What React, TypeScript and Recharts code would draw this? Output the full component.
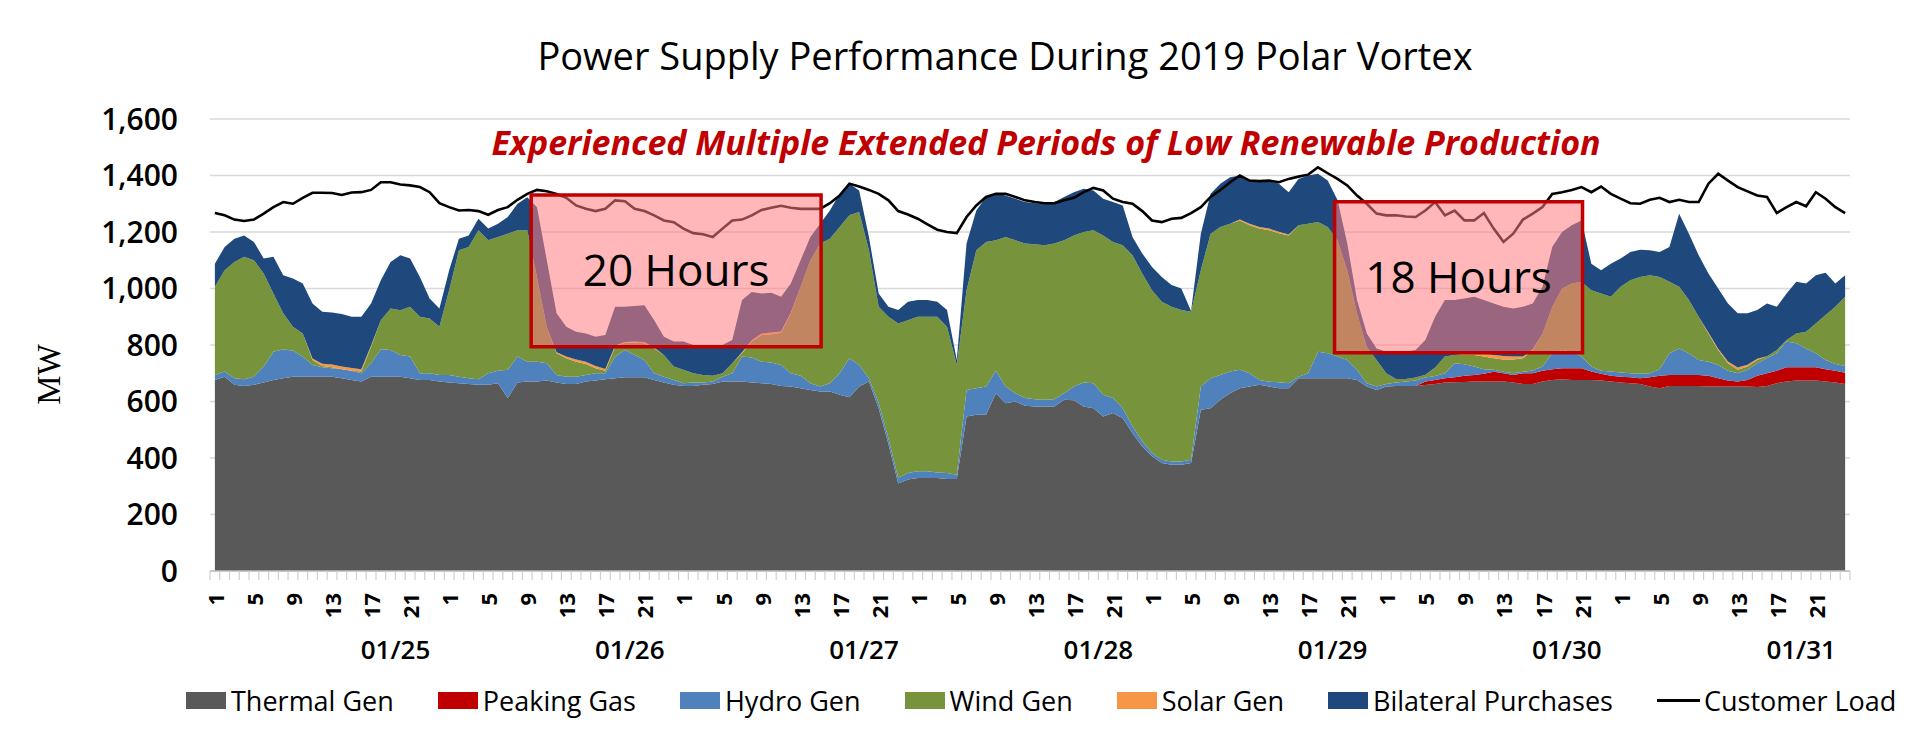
import React from 'react';
import {
  ComposedChart,
  Area,
  Line,
  XAxis,
  YAxis,
  CartesianGrid,
  ReferenceArea,
  Legend,
} from 'recharts';

// ---------------- data ----------------
const dates = ['01/25', '01/26', '01/27', '01/28', '01/29', '01/30', '01/31'];
const hoursOfDay = [1, 2, 3, 4, 5, 6, 7, 8, 9, 10, 11, 12, 13, 14, 15, 16, 17, 18, 19, 20, 21, 22, 23, 24];
const yTicks = [0, 200, 400, 600, 800, 1000, 1200, 1400, 1600];

const thermal = [
  676, 688, 659, 655, 659, 667, 676, 682, 688, 688,
  688, 688, 688, 682, 676, 671, 688, 688, 688, 688,
  682, 676, 676, 671, 667, 665, 662, 659, 659, 665,
  612, 667, 671, 671, 674, 667, 662, 662, 671, 674,
  679, 682, 686, 686, 686, 676, 667, 659, 655, 655,
  659, 662, 671, 671, 671, 667, 665, 662, 655, 653,
  647, 641, 635, 635, 624, 615, 653, 671, 575, 450,
  310, 324, 329, 329, 329, 326, 326, 547, 553, 553,
  629, 594, 600, 585, 582, 582, 582, 606, 604, 582,
  576, 547, 559, 541, 488, 441, 406, 382, 376, 376,
  382, 571, 576, 606, 629, 647, 653, 659, 653, 647,
  647, 682, 682, 682, 682, 682, 682, 676, 653, 641,
  653, 655, 655, 655, 658, 662, 667, 668, 669, 671,
  671, 671, 671, 667, 662, 662, 671, 676, 679, 676,
  676, 676, 674, 671, 667, 665, 662, 653, 647, 655,
  655, 655, 655, 653, 653, 653, 653, 653, 651, 655,
  665, 671, 674, 674, 674, 671, 667, 662,
];

const peakingGas = [
  0, 0, 0, 0, 0, 0, 0, 0, 0, 0,
  0, 0, 0, 0, 0, 0, 0, 0, 0, 0,
  0, 0, 0, 0, 0, 0, 0, 0, 0, 0,
  0, 0, 0, 0, 0, 0, 0, 0, 0, 0,
  0, 0, 0, 0, 0, 0, 0, 0, 0, 0,
  0, 0, 0, 0, 0, 0, 0, 0, 0, 0,
  0, 0, 0, 0, 0, 0, 0, 0, 0, 0,
  0, 0, 0, 0, 0, 0, 0, 0, 0, 0,
  0, 0, 0, 0, 0, 0, 0, 0, 0, 0,
  0, 0, 0, 0, 0, 0, 0, 0, 0, 0,
  0, 0, 0, 0, 0, 0, 0, 0, 0, 0,
  0, 0, 0, 0, 0, 0, 0, 0, 0, 0,
  0, 0, 0, 0, 13, 14, 15, 18, 22, 23,
  27, 34, 29, 27, 38, 38, 38, 38, 39, 42,
  42, 30, 24, 20, 21, 21, 20, 33, 44, 39,
  39, 39, 39, 38, 29, 21, 18, 23, 40, 45,
  44, 50, 47, 47, 47, 43, 42, 40,
];

const hydro = [
  18, 18, 23, 24, 29, 57, 100, 103, 92, 71,
  41, 33, 30, 32, 33, 29, 47, 97, 94, 77,
  77, 24, 24, 23, 27, 23, 20, 20, 41, 44,
  100, 92, 70, 70, 61, 27, 26, 26, 23, 26,
  21, 77, 96, 79, 61, 24, 21, 17, 10, 12,
  8, 9, 17, 29, 88, 89, 76, 76, 74, 47,
  44, 24, 18, 30, 76, 138, 76, 11, 20, 20,
  20, 23, 24, 24, 20, 21, 15, 94, 94, 100,
  80, 59, 29, 27, 26, 24, 26, 23, 49, 85,
  89, 77, 53, 35, 24, 18, 12, 12, 12, 12,
  12, 82, 106, 88, 77, 65, 47, 17, 17, 21,
  18, 6, 18, 94, 89, 77, 65, 36, 12, 12,
  9, 12, 16, 19, 14, 14, 18, 49, 41, 30,
  16, 7, 5, 6, 5, 10, 15, 57, 64, 58,
  41, 18, 11, 15, 15, 14, 16, 14, 23, 77,
  94, 77, 53, 50, 47, 35, 29, 36, 44, 53,
  62, 91, 85, 67, 50, 33, 24, 24,
];

const wind = [
  312, 359, 412, 433, 412, 329, 206, 127, 85, 82,
  18, 5, 3, 0, 0, 6, 59, 103, 147, 158,
  176, 200, 194, 171, 300, 447, 465, 527, 471, 473,
  482, 447, 465, 300, 130, 77, 65, 53, 39, 18,
  9, 35, 26, 43, 59, 88, 77, 48, 47, 33,
  27, 20, 12, 35, 12, 56, 94, 100, 114, 212,
  315, 435, 506, 511, 518, 506, 542, 453, 340, 430,
  546, 541, 547, 547, 551, 518, 388, 353, 488, 512,
  462, 529, 542, 547, 549, 547, 551, 542, 535, 533,
  541, 564, 553, 577, 606, 594, 576, 559, 547, 536,
  524, 412, 512, 524, 523, 529, 524, 536, 536, 528,
  523, 536, 529, 459, 447, 412, 318, 200, 129, 94,
  38, 13, 9, 11, 10, 30, 59, 30, 33, 41,
  45, 41, 44, 49, 48, 72, 117, 164, 218, 242,
  265, 270, 273, 265, 303, 329, 343, 347, 327, 253,
  218, 188, 153, 100, 53, 26, 12, 12, 12, 7,
  11, 6, 35, 59, 105, 159, 202, 245,
];

const solar = [
  0, 0, 0, 0, 0, 0, 0, 0, 0, 0,
  5, 8, 10, 10, 10, 8, 4, 0, 0, 0,
  0, 0, 0, 0, 0, 0, 0, 0, 0, 0,
  0, 0, 0, 0, 0, 3, 6, 8, 8, 8,
  6, 4, 3, 4, 5, 3, 0, 0, 0, 0,
  0, 0, 0, 0, 3, 5, 6, 6, 5, 3,
  0, 0, 0, 0, 0, 0, 0, 0, 0, 0,
  0, 0, 0, 0, 0, 0, 0, 0, 0, 0,
  0, 0, 0, 0, 0, 0, 0, 0, 0, 0,
  0, 0, 0, 0, 0, 0, 0, 0, 0, 0,
  0, 0, 0, 0, 0, 3, 5, 6, 6, 5,
  3, 0, 0, 0, 0, 0, 0, 0, 0, 0,
  0, 0, 0, 0, 0, 0, 0, 0, 4, 8,
  10, 12, 12, 10, 6, 3, 0, 0, 0, 0,
  0, 0, 0, 0, 0, 0, 0, 0, 0, 0,
  0, 0, 0, 3, 5, 7, 8, 6, 4, 0,
  0, 0, 0, 0, 0, 0, 0, 0,
];

const bilateral = [
  82, 82, 82, 76, 65, 53, 130, 135, 170, 177,
  195, 184, 184, 186, 181, 186, 149, 141, 165, 195,
  171, 141, 71, 64, 71, 41, 41, 41, 41, 47,
  59, 94, 117, 247, 235, 138, 106, 98, 100, 103,
  120, 137, 124, 126, 130, 97, 64, 88, 100, 100,
  106, 109, 100, 83, 185, 171, 141, 141, 123, 103,
  94, 82, 70, 100, 117, 112, 76, 47, 47, 35,
  48, 65, 59, 59, 53, 59, 18, 165, 141, 159,
  164, 147, 147, 147, 145, 147, 147, 153, 153, 153,
  141, 130, 141, 141, 64, 71, 82, 88, 77, 76,
  2, 129, 141, 153, 165, 156, 153, 162, 168, 170,
  150, 164, 171, 171, 164, 142, 94, 47, 47, 41,
  76, 96, 96, 97, 123, 180, 200, 194, 196, 198,
  190, 182, 174, 170, 176, 162, 165, 212, 200, 206,
  217, 94, 83, 117, 100, 100, 96, 88, 88, 123,
  259, 235, 218, 209, 213, 205, 192, 182, 173, 187,
  153, 164, 183, 171, 171, 150, 83, 76,
];

const customerLoad = [
  1267, 1259, 1244, 1239, 1244, 1265, 1288, 1306, 1300, 1321,
  1339, 1339, 1338, 1331, 1340, 1341, 1349, 1376, 1376, 1368,
  1365, 1359, 1341, 1302, 1288, 1276, 1278, 1274, 1261, 1278,
  1288, 1314, 1335, 1349, 1344, 1335, 1321, 1294, 1282, 1274,
  1282, 1312, 1309, 1282, 1274, 1259, 1241, 1235, 1212, 1196,
  1192, 1182, 1212, 1241, 1244, 1259, 1278, 1286, 1293, 1286,
  1282, 1282, 1282, 1302, 1329, 1371, 1361, 1349, 1335, 1312,
  1274, 1262, 1247, 1227, 1208, 1200, 1196, 1253, 1294, 1324,
  1335, 1335, 1324, 1312, 1306, 1302, 1302, 1312, 1321, 1341,
  1356, 1347, 1318, 1306, 1300, 1274, 1241, 1235, 1247, 1250,
  1267, 1288, 1324, 1349, 1376, 1400, 1382, 1380, 1382, 1376,
  1388, 1396, 1403, 1429, 1408, 1388, 1365, 1329, 1300, 1265,
  1259, 1259, 1255, 1253, 1276, 1306, 1259, 1276, 1241, 1241,
  1267, 1212, 1165, 1194, 1244, 1265, 1288, 1335, 1341, 1349,
  1359, 1341, 1361, 1335, 1318, 1302, 1300, 1314, 1321, 1306,
  1314, 1306, 1306, 1371, 1406, 1382, 1359, 1344, 1329, 1324,
  1267, 1288, 1306, 1291, 1341, 1318, 1288, 1267,
];

// highlighted low-renewable windows (x in hour-slots from chart start, y in MW)
const lowRenewableBoxes = [
  { label: '20 Hours', x1: 32.9, x2: 62.6, y1: 794, y2: 1331 },
  { label: '18 Hours', x1: 115.2, x2: 140.6, y1: 773, y2: 1307 },
];

const seriesInfo = [
  { key: 'thermal', name: 'Thermal Gen', color: '#595959' },
  { key: 'peaking', name: 'Peaking Gas', color: '#C00000' },
  { key: 'hydro', name: 'Hydro Gen', color: '#4F81BD' },
  { key: 'wind', name: 'Wind Gen', color: '#77933C' },
  { key: 'solar', name: 'Solar Gen', color: '#F79646' },
  { key: 'bilateral', name: 'Bilateral Purchases', color: '#1F497D' },
];

// ---------------- table ----------------
type Row = { [k: string]: any };
const rows: Row[] = [];
dates.forEach((d, di) => {
  hoursOfDay.forEach((h, hi) => {
    const i = di * hoursOfDay.length + hi;
    rows.push({
      key: `${d} ${h}`,
      slot: i,
      date: d,
      hour: h,
      thermal: thermal[i],
      peaking: peakingGas[i],
      hydro: hydro[i],
      wind: wind[i],
      solar: solar[i],
      bilateral: bilateral[i],
      load: customerLoad[i],
    });
  });
});
const rowByKey: Record<string, Row> = {};
rows.forEach((r) => (rowByKey[r.key] = r));
const lastKey = rows[rows.length - 1].key;

const FONT = "'Open Sans', sans-serif";
const W = 1924;
const H = 739;
const PLOT = { top: 119, right: 74, left: 210, xAxisH: 114, legendH: 30, bottom: 24 };

const HourTick = (props: any) => {
  const { x, y, payload } = props;
  const row = rowByKey[payload.value];
  if (!row) return null;
  const off = payload.offset ?? 4.88;
  const ly = y + 22;
  return (
    <g>
      <line x1={x - off} x2={x - off} y1={y} y2={y + 9} stroke="#D0D0D0" strokeWidth={1.2} />
      {payload.value === lastKey && (
        <line x1={x + off} x2={x + off} y1={y} y2={y + 9} stroke="#D0D0D0" strokeWidth={1.2} />
      )}
      {row.hour % 4 === 1 && (
        <text
          x={x}
          y={ly}
          transform={`rotate(-90 ${x} ${ly})`}
          textAnchor="end"
          dominantBaseline="central"
          fontSize={22}
          fontWeight={700}
          fontFamily={FONT}
          fill="#000"
        >
          {row.hour}
        </text>
      )}
      {row.hour === 19 && (
        <text
          x={x + off}
          y={y + 88}
          textAnchor="middle"
          fontSize={26}
          fontWeight={600}
          fontFamily={FONT}
          fill="#000"
        >
          {row.date}
        </text>
      )}
    </g>
  );
};

const MWLabel = (props: any) => {
  const vb = props.viewBox || { x: 30, y: 119, width: 180, height: 452 };
  const cx = vb.x + 19;
  const cy = vb.y + vb.height * 0.565;
  return (
    <text
      x={cx}
      y={cy}
      transform={`rotate(-90 ${cx} ${cy})`}
      textAnchor="middle"
      dominantBaseline="central"
      fontSize={33}
      fontFamily="'Liberation Serif', 'Times New Roman', serif"
      fill="#000"
    >
      MW
    </text>
  );
};

const LegendContent = () => (
  <div
    style={{
      display: 'flex',
      alignItems: 'center',
      height: 30,
      paddingLeft: 186,
      gap: 44,
      fontFamily: FONT,
      fontSize: 27,
      color: '#000',
      whiteSpace: 'nowrap',
    }}
  >
    {seriesInfo.map((s) => (
      <div key={s.key} style={{ display: 'flex', alignItems: 'center', gap: 5 }}>
        <div style={{ width: 40, height: 17, background: s.color }} />
        <span>{s.name}</span>
      </div>
    ))}
    <div style={{ display: 'flex', alignItems: 'center', gap: 4 }}>
      <div style={{ width: 43, height: 3, background: '#000' }} />
      <span>Customer Load</span>
    </div>
  </div>
);

export default function App() {
  const plotBottomMargin = PLOT.xAxisH + PLOT.legendH + PLOT.bottom;
  return (
    <div
      style={{
        position: 'absolute',
        left: 0,
        top: 0,
        width: W,
        height: H,
        background: '#fff',
        fontFamily: FONT,
        overflow: 'hidden',
      }}
    >
      <ComposedChart
        width={W}
        height={H}
        data={rows}
        margin={{ top: PLOT.top, right: PLOT.right, bottom: PLOT.bottom, left: 30 }}
      >
        <CartesianGrid vertical={false} stroke="#D9D9D9" strokeWidth={1.5} />
        <XAxis
          dataKey="key"
          scale="band"
          interval={0}
          height={PLOT.xAxisH}
          tickLine={false}
          tickSize={0}
          tickMargin={0}
          axisLine={{ stroke: '#BFBFBF', strokeWidth: 1.5 }}
          tick={<HourTick />}
        />
        <YAxis
          width={PLOT.left - 30}
          domain={[0, 1600]}
          ticks={yTicks}
          tickFormatter={(v: number) => v.toLocaleString('en-US')}
          axisLine={false}
          tickLine={false}
          tickSize={0}
          tickMargin={32}
          tick={{ fontSize: 30, fontWeight: 600, fill: '#000', fontFamily: FONT }}
          label={<MWLabel />}
        />
        {seriesInfo.map((s) => (
          <Area
            key={s.key}
            type="linear"
            dataKey={s.key}
            name={s.name}
            stackId="supply"
            stroke="none"
            fill={s.color}
            fillOpacity={1}
            isAnimationActive={false}
            activeDot={false}
          />
        ))}
        <Line
          type="linear"
          dataKey="load"
          name="Customer Load"
          stroke="#000"
          strokeWidth={2.6}
          dot={false}
          activeDot={false}
          isAnimationActive={false}
        />
        <Legend
          content={<LegendContent />}
          wrapperStyle={{ left: 0, top: 685, width: W, height: PLOT.legendH }}
        />
      </ComposedChart>

      {/* overlay layer: the highlight boxes sit above the load line */}
      <div style={{ position: 'absolute', left: 0, top: 0, pointerEvents: 'none' }}>
        <ComposedChart
          width={W}
          height={H}
          data={rows}
          margin={{ top: PLOT.top, right: PLOT.right, bottom: plotBottomMargin, left: PLOT.left }}
        >
          <XAxis dataKey="slot" type="number" domain={[0, 168]} hide allowDataOverflow />
          <YAxis domain={[0, 1600]} hide allowDataOverflow />
          {lowRenewableBoxes.map((b) => (
            <ReferenceArea
              key={b.label}
              x1={b.x1}
              x2={b.x2}
              y1={b.y1}
              y2={b.y2}
              fill="#FF7C80"
              fillOpacity={0.55}
              stroke="#C00000"
              strokeWidth={3.5}
              strokeOpacity={1}
              label={{
                value: b.label,
                position: 'center',
                fill: '#000',
                fontSize: 44,
                fontWeight: 500,
                fontFamily: FONT,
              }}
            />
          ))}
        </ComposedChart>
      </div>

      <div
        style={{
          position: 'absolute',
          left: 505,
          width: 1000,
          top: 36,
          fontSize: 38,
          lineHeight: '38px',
          textAlign: 'center',
          whiteSpace: 'nowrap',
          color: '#000',
        }}
      >
        Power Supply Performance During 2019 Polar Vortex
      </div>
      <div
        style={{
          position: 'absolute',
          left: 346,
          width: 1400,
          top: 125,
          fontSize: 34,
          lineHeight: '34px',
          fontStyle: 'italic',
          fontWeight: 700,
          textAlign: 'center',
          whiteSpace: 'nowrap',
          color: '#C00000',
        }}
      >
        Experienced Multiple Extended Periods of Low Renewable Production
      </div>
    </div>
  );
}
